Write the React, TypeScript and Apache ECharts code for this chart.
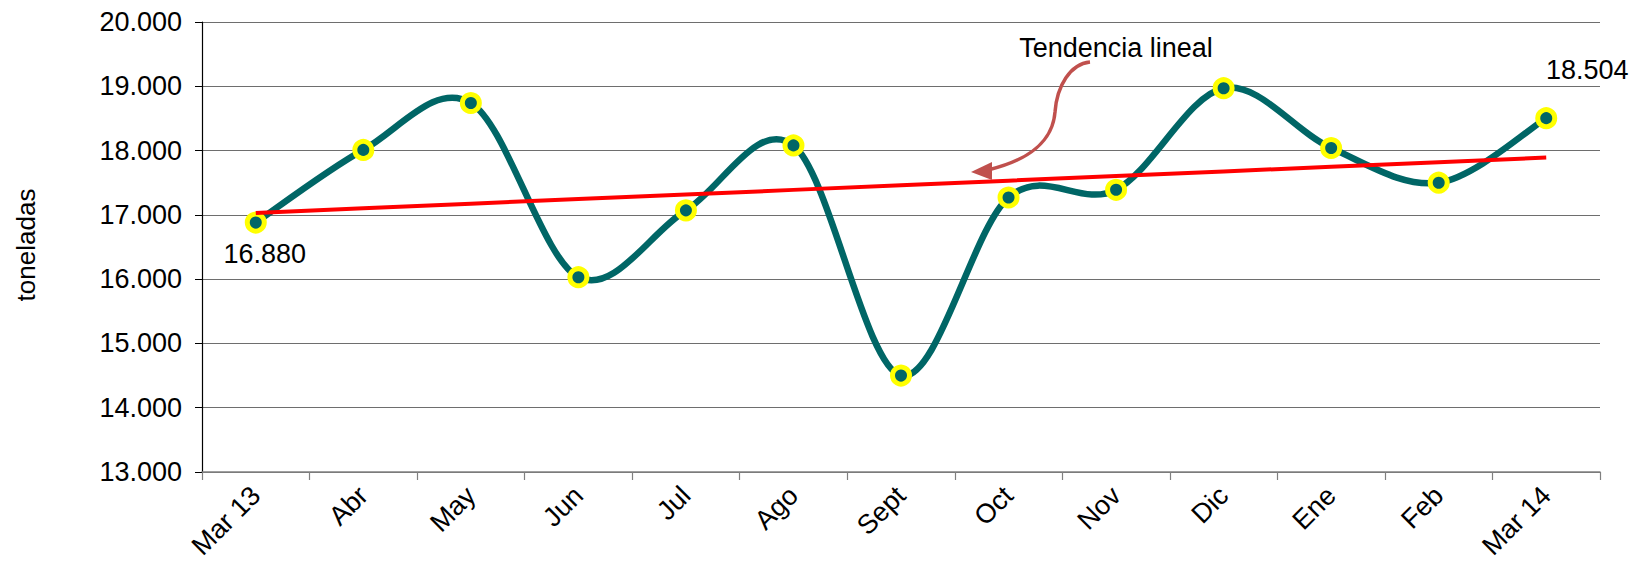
import React, { useEffect, useRef } from "react";
import * as echarts from "echarts";

const categories = ["Mar 13", "Abr", "May", "Jun", "Jul", "Ago", "Sept", "Oct", "Nov", "Dic", "Ene", "Feb", "Mar 14"];
const tonnes = [16880, 18010, 18740, 16030, 17070, 18080, 14500, 17270, 17390, 18970, 18040, 17500, 18504];
const yMin = 13000;
const yMax = 20000;
const yStep = 1000;
const yTitle = "toneladas";
const trendTitle = "Tendencia lineal";

const FONT = "Liberation Sans";
const FS = 27;
const TEAL = "#006666";

function fmt(n: number): string {
  return Math.round(n).toString().replace(/\B(?=(\d{3})+(?!\d))/g, ".");
}

// least-squares linear trend of the series
function linearTrend(vals: number[]): number[] {
  const n = vals.length;
  const mx = (n - 1) / 2;
  const my = vals.reduce((a, b) => a + b, 0) / n;
  let sxy = 0;
  let sxx = 0;
  vals.forEach((v, i) => {
    sxy += (i - mx) * (v - my);
    sxx += (i - mx) * (i - mx);
  });
  const slope = sxy / sxx;
  return vals.map((_, i) => my + slope * (i - mx));
}

export default function App() {
  const ref = useRef<HTMLDivElement>(null);
  useEffect(() => {
    if (!ref.current) return;
    const chart = echarts.init(ref.current, undefined, { renderer: "svg" });
    const trend = linearTrend(tonnes);
    const last = tonnes.length - 1;
    const pointData = tonnes.map((v, i) => {
      if (i === 0) {
        return {
          value: [i, v],
          label: { show: true, position: "bottom", offset: [9, 2], formatter: () => fmt(v) },
        };
      }
      if (i === last) {
        return {
          value: [i, v],
          label: { show: true, position: "top", offset: [41, -19], formatter: () => fmt(v) },
        };
      }
      return { value: [i, v] };
    });

    // smooth curve (Catmull-Rom style, as in the spreadsheet's smoothed line) through the axis coordinates
    const renderCurve = (params: any, api: any) => {
      if (params.dataIndex !== 0) return null;
      const pts = tonnes.map((v, i) => api.coord([i, v]));
      const n = pts.length;
      let d = `M${pts[0][0]},${pts[0][1]}`;
      for (let i = 0; i < n - 1; i++) {
        const p0 = pts[Math.max(i - 1, 0)];
        const p1 = pts[i];
        const p2 = pts[i + 1];
        const p3 = pts[Math.min(i + 2, n - 1)];
        const c1x = p1[0] + (p2[0] - p0[0]) / 6;
        const c1y = p1[1] + (p2[1] - p0[1]) / 6;
        const c2x = p2[0] - (p3[0] - p1[0]) / 6;
        const c2y = p2[1] - (p3[1] - p1[1]) / 6;
        d += ` C${c1x},${c1y} ${c2x},${c2y} ${p2[0]},${p2[1]}`;
      }
      return {
        type: "path",
        shape: { pathData: d },
        style: { stroke: TEAL, lineWidth: 6.5, fill: "none", lineJoin: "round", lineCap: "round" },
      };
    };

    chart.setOption({
      animation: false,
      backgroundColor: "#ffffff",
      textStyle: { fontFamily: FONT },
      grid: { left: 202, right: 31, top: 22, bottom: 92, containLabel: false },
      xAxis: {
        type: "category",
        data: categories,
        boundaryGap: true,
        axisLine: { show: true, lineStyle: { color: "#808080", width: 1.5 } },
        axisTick: { show: true, length: 8, lineStyle: { color: "#808080", width: 1.2 } },
        axisLabel: { rotate: 45, margin: 19, color: "#000", fontSize: FS, fontFamily: FONT },
        splitLine: { show: false },
      },
      yAxis: {
        type: "value",
        min: yMin,
        max: yMax,
        interval: yStep,
        axisLine: { show: true, lineStyle: { color: "#000", width: 1.2 } },
        axisTick: { show: true, length: 7, inside: false, lineStyle: { color: "#000", width: 1 } },
        axisLabel: { margin: 20, color: "#000", fontSize: FS, fontFamily: FONT, formatter: (v: number) => fmt(v) },
        splitLine: { show: true, lineStyle: { color: "#6e6e6e", width: 1.2 } },
      },
      series: [
        {
          type: "custom",
          coordinateSystem: "cartesian2d",
          data: tonnes.map((v, i) => [i, v]),
          encode: { x: 0, y: 1 },
          renderItem: renderCurve,
          clip: false,
          z: 2,
        },
        {
          type: "scatter",
          data: pointData,
          symbol: "circle",
          symbolSize: 17,
          itemStyle: { color: TEAL, borderColor: "#FFFF00", borderWidth: 5, opacity: 1 },
          label: { color: "#000", fontSize: FS, fontFamily: FONT },
          emphasis: { disabled: true },
          z: 3,
        },
        {
          type: "line",
          data: trend,
          smooth: false,
          symbol: "none",
          lineStyle: { color: "#FF0000", width: 4 },
          z: 4,
        },
      ],
      graphic: [
        {
          type: "text",
          x: 26,
          y: 245,
          rotation: Math.PI / 2,
          style: { text: yTitle, fill: "#000", fontSize: 26, fontFamily: FONT, textAlign: "center", textVerticalAlign: "middle" },
        },
        {
          type: "text",
          x: 1116,
          y: 48,
          style: { text: trendTitle, fill: "#000", fontSize: FS, fontFamily: FONT, textAlign: "center", textVerticalAlign: "middle" },
          z: 10,
        },
        {
          type: "bezierCurve",
          shape: { x1: 1090, y1: 62, x2: 1055, y2: 112, cpx1: 1070, cpy1: 64, cpx2: 1057, cpy2: 86 },
          style: { stroke: "#C0504D", lineWidth: 3.5, fill: "none" },
          z: 10,
        },
        {
          type: "bezierCurve",
          shape: { x1: 1055, y1: 112, x2: 988, y2: 170, cpx1: 1053, cpy1: 140, cpx2: 1030, cpy2: 160 },
          style: { stroke: "#C0504D", lineWidth: 3.5, fill: "none" },
          z: 10,
        },
        {
          type: "polygon",
          shape: { points: [[971, 172], [992, 162], [992, 180]] },
          style: { fill: "#C0504D" },
          z: 10,
        },
      ],
    });
    return () => chart.dispose();
  }, []);
  return <div ref={ref} style={{ width: 1631, height: 564, position: "absolute", left: 0, top: 0 }} />;
}
